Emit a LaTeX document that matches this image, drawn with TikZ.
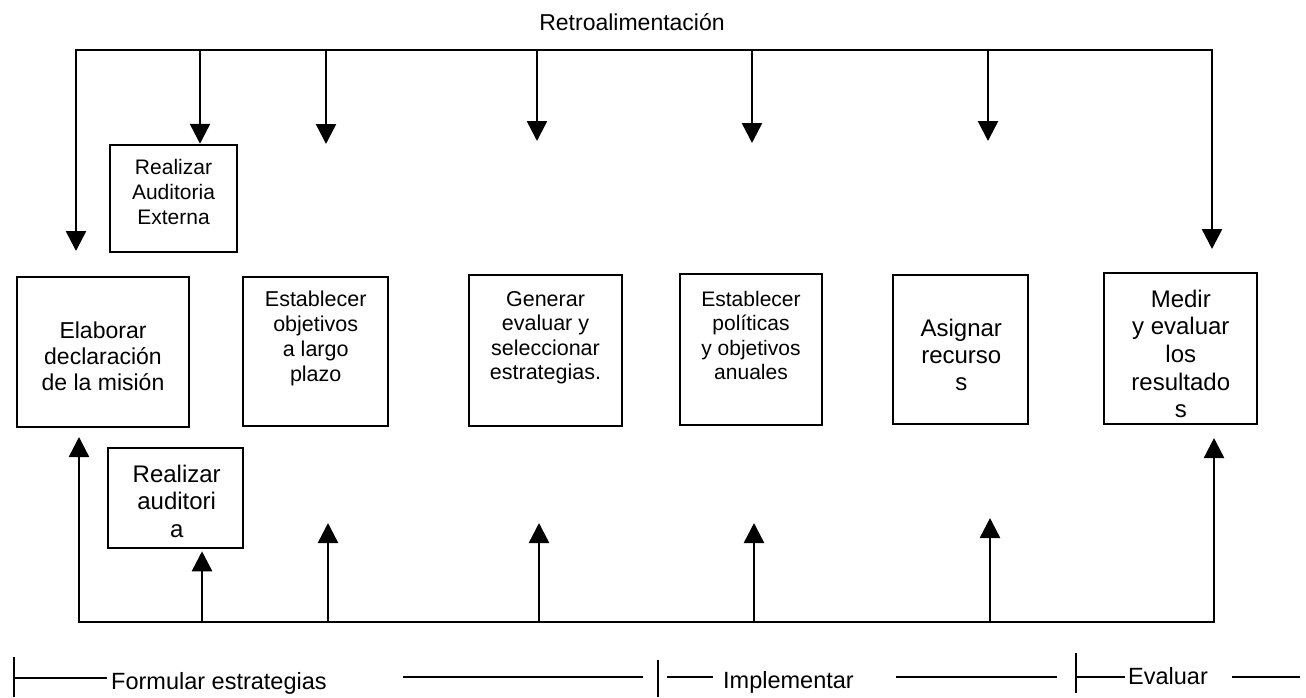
\documentclass[tikz,border=0pt]{standalone}
\usepackage{fontspec}
\setmainfont{Liberation Sans}
\usetikzlibrary{arrows.meta}
\tikzset{
  box/.style={draw, line width=2.5pt, inner sep=0pt},
  txt/.style={align=center, inner sep=0pt, anchor=north},
  fb/.style={line width=2.5pt, line join=miter, -{Triangle[width=20pt,length=20pt]}},
  fbb/.style={line width=2.5pt, line join=miter, {Triangle[width=20pt,length=20pt]}-{Triangle[width=20pt,length=20pt]}},
  phase/.style={line width=1.6pt},
  tickline/.style={line width=2pt},
  lbl/.style={inner sep=0pt, anchor=base west, font=\fontsize{23.5}{26}\selectfont},
}
\begin{document}
\begin{tikzpicture}[x=1pt,y=-1pt]
\useasboundingbox (0,0) rectangle (1306,697);
\fill[white] (0,0) rectangle (1306,697);

% boxes
\node[box, minimum width=127pt, minimum height=107pt] (rae) at (173.5,198.5) {};
\node[box, minimum width=172pt, minimum height=150pt] (elab) at (103,352) {};
\node[box, minimum width=145pt, minimum height=149pt] (obj) at (315.5,351.5) {};
\node[box, minimum width=153pt, minimum height=151pt] (gen) at (545.5,350.5) {};
\node[box, minimum width=142pt, minimum height=151pt] (pol) at (751,349.5) {};
\node[box, minimum width=135pt, minimum height=149pt] (asig) at (960.5,349.5) {};
\node[box, minimum width=153pt, minimum height=151pt] (med) at (1180.5,348.5) {};
\node[box, minimum width=135pt, minimum height=100pt] (rai) at (175.5,498) {};

% box texts
\node[txt, font=\fontsize{21}{25}\selectfont] (raeT) at (173.5,159.5) {Realizar\\Auditoria\\Externa};
\node[txt, font=\fontsize{23}{26}\selectfont] (elabT) at (103,321.5) {Elaborar\\declaración\\de la misión};
\node[txt, font=\fontsize{21.5}{25}\selectfont] (objT) at (315.7,291) {Establecer\\objetivos\\a largo\\plazo};
\node[txt, font=\fontsize{21.5}{24.5}\selectfont] (genT) at (545.5,291) {Generar\\evaluar y\\seleccionar\\estrategias.};
\node[txt, font=\fontsize{21}{24.5}\selectfont] (polT) at (751,291) {Establecer\\políticas\\y objetivos\\anuales};
\node[txt, font=\fontsize{24}{27}\selectfont] (asigT) at (961.3,319) {Asignar\\recurso\\s};
\node[txt, font=\fontsize{24}{27.7}\selectfont] (medT) at (1180.8,289.5) {Medir\\y evaluar\\los\\resultado\\s};
\node[txt, font=\fontsize{24}{27.5}\selectfont] (raiT) at (176.7,464.5) {Realizar\\auditori\\a};

% feedback (top)
\node[inner sep=0pt, anchor=base, font=\fontsize{23}{26}\selectfont] (retro) at (632,30.5) {Retroalimentación};
\coordinate (tl) at (76,50);
\coordinate (tr) at (1212,50);
\coordinate (e1) at (76,251);
\coordinate (e7) at (1212,249);
\coordinate (t2) at (200,50);
\coordinate (t3) at (326,50);
\coordinate (t4) at (537,50);
\coordinate (t5) at (752,50);
\coordinate (t6) at (988,50);
\coordinate (e3) at (326,144);
\coordinate (e4) at (537,141);
\coordinate (e5) at (752,143);
\coordinate (e6) at (988,141);
\draw[fbb] (e1) -- (tl) -- (tr) -- (e7);
\draw[fb] (t2) -- (t2 |- rae.north);
\draw[fb] (t3) -- (e3);
\draw[fb] (t4) -- (e4);
\draw[fb] (t5) -- (e5);
\draw[fb] (t6) -- (e6);

% bottom
\coordinate (bl) at (79,622);
\coordinate (br) at (1214,622);
\coordinate (u1) at (79,437);
\coordinate (u7) at (1214,438);
\coordinate (b2) at (202,622);
\coordinate (b3) at (328,622);
\coordinate (b4) at (539,622);
\coordinate (b5) at (754,622);
\coordinate (b6) at (990,622);
\coordinate (u3) at (328,523);
\coordinate (u4) at (539,523);
\coordinate (u5) at (754,523);
\coordinate (u6) at (990,518);
\draw[fbb] (u1) -- (bl) -- (br) -- (u7);
\draw[fb] (b2) -- ([yshift=-2pt]b2 |- rai.south);
\draw[fb] (b3) -- (u3);
\draw[fb] (b4) -- (u4);
\draw[fb] (b5) -- (u5);
\draw[fb] (b6) -- (u6);

% phases
\coordinate (k1a) at (14,657);
\coordinate (k1b) at (14,697);
\coordinate (k2a) at (658,660);
\coordinate (k2b) at (658,697);
\coordinate (k3a) at (1076,653);
\coordinate (k3b) at (1076,693);
\draw[tickline] (k1a) -- (k1b);
\draw[tickline] (k2a) -- (k2b);
\draw[tickline] (k3a) -- (k3b);

\node[lbl] (form) at (111,689) {Formular estrategias};
\node[lbl] (impl) at (723,688) {Implementar};
\node[lbl] (eval) at (1128,684) {Evaluar};

\coordinate (p1) at (14,678);
\coordinate (p2) at (107,678);
\coordinate (p3) at (403,677);
\coordinate (p4) at (643,677);
\coordinate (p5) at (667,677);
\coordinate (p6) at (713,677);
\coordinate (p7) at (896,677);
\coordinate (p8) at (1057,677);
\coordinate (p9) at (1076,677);
\coordinate (p10) at (1125,677);
\coordinate (p11) at (1232,677);
\coordinate (p12) at (1300,677);
\draw[phase] (p1) -- (p2);
\draw[phase] (p3) -- (p4);
\draw[phase] (p5) -- (p6);
\draw[phase] (p7) -- (p8);
\draw[phase] (p9) -- (p10);
\draw[phase] (p11) -- (p12);
\end{tikzpicture}
\end{document}
